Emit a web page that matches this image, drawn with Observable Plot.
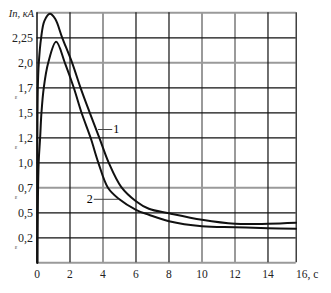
<!DOCTYPE html>
<html><head><meta charset="utf-8">
<script src="https://cdn.jsdelivr.net/npm/d3@7"></script>
<script src="https://cdn.jsdelivr.net/npm/@observablehq/plot@0.6"></script>
<style>body{margin:0;background:#fff} svg text{font-family:"Liberation Serif","Times New Roman",serif !important}</style>
</head><body><div id="chart"></div>
<script>
// Time, s
const t1 = [0.02,0.05,0.11,0.25,0.45,0.78,1.1,1.53,2.13,2.64,3.2,3.78,4.35,5.1,6,6.78,8,10,12,14,15.7];
const i1 = [0,1.75,2.0,2.25,2.42,2.49,2.44,2.25,2.0,1.75,1.5,1.25,1.0,0.76,0.616,0.54,0.495,0.43,0.39,0.39,0.4];
const t2 = [0.02,0.1,0.19,0.27,0.41,0.68,1.16,1.69,2.23,2.7,3.25,3.72,4.3,4.95,6,6.78,8,10,12,14,15.7];
const i2 = [0,1.0,1.25,1.5,1.75,2.0,2.21,2.0,1.75,1.5,1.25,1.0,0.75,0.64,0.53,0.48,0.416,0.366,0.356,0.346,0.34];

const xTicks = [0,2,4,6,8,10,12,14];
const xTickLabels = ["0","2","4","6","8","10","12","14"];
const xLastTick = 16, xLastLabel = "16, с";
const yTicks = [0.25,0.5,0.75,1.0,1.25,1.5,1.75,2.0,2.25];
const yTickLabels = ["0,2","0,5","0,7","1,0","1,2","1,5","1,7","2,0","2,25"];
const yTitle = "Iп, кА";
const grayX = [4,10,12];
const grayY = [0,0.75,2.0,2.5];
const curveNames = ["1","2"];
const leaderX1 = [3.7,3.44], leaderX2 = [4.56,4.9], leaderY = [1.333,0.635];

const s1 = t1.map((t,k)=>({t, v:i1[k]}));
const s2 = t2.map((t,k)=>({t, v:i2[k]}));
const vgrid = xTicks.filter(d=>d>0).concat([15.71]);
const hgrid = [0].concat(yTicks).concat([2.5]);
const font = "Liberation Serif";
const oddTicks = yTicks.filter((d,k)=>yTickLabels[k].length===3 && Math.round(d*100)%50!==0);

const chart = Plot.plot({
  width: 331, height: 293,
  marginLeft: 36.5, marginRight: 35.3, marginTop: 12.3, marginBottom: 30.7,
  x: {domain: [0, 15.71], axis: null},
  y: {domain: [0, 2.5], axis: null},
  style: {background: "#fff"},
  marks: [
    Plot.ruleX(vgrid.filter(d=>grayX.includes(d)), {stroke: "#9a9a9a", strokeWidth: 2}),
    Plot.ruleY(hgrid.filter(d=>grayY.includes(d)), {stroke: "#9a9a9a", strokeWidth: 2}),
    Plot.ruleX(vgrid.filter(d=>!grayX.includes(d)), {stroke: "#111", strokeWidth: 1.2}),
    Plot.ruleY(hgrid.filter(d=>!grayY.includes(d)), {stroke: "#111", strokeWidth: 1.2}),
    Plot.ruleX([0], {stroke: "#111", strokeWidth: 1.5}),
    Plot.line(s1, {x: "t", y: "v", curve: "catmull-rom", stroke: "#111", strokeWidth: 2}),
    Plot.line(s2, {x: "t", y: "v", curve: "catmull-rom", stroke: "#111", strokeWidth: 2}),
    Plot.link([0,1], {x1: k=>leaderX1[k], x2: k=>leaderX2[k], y1: k=>leaderY[k], y2: k=>leaderY[k], stroke: "#444", strokeWidth: 1}),
    Plot.text([0], {x: leaderX2[0], y: leaderY[0], text: [curveNames[0]], textAnchor: "start", dx: 1, fontSize: 12, fontFamily: font}),
    Plot.text([1], {x: leaderX1[1], y: leaderY[1], text: [curveNames[1]], textAnchor: "end", dx: -1, fontSize: 12, fontFamily: font}),
    Plot.text(xTicks, {x: d=>d, y: 0, text: (d,k)=>xTickLabels[k], dy: 12, fontSize: 11.5, fill: "#222", fontFamily: font}),
    Plot.text([xLastTick], {x: d=>d, y: 0, text: [xLastLabel], dy: 12, dx: -5, textAnchor: "start", fontSize: 11.5, fill: "#222", fontFamily: font}),
    Plot.text(yTicks, {x: 0, y: d=>d, text: (d,k)=>yTickLabels[k], dx: -4, textAnchor: "end", fontSize: 12, fill: "#222", fontFamily: font}),
    Plot.text(oddTicks, {x: 0, y: d=>d, text: d=>"ɛ", dx: -21, dy: 9, textAnchor: "middle", fontSize: 6, fill: "#444", fontFamily: font}),
    Plot.text([2.5], {x: 0, y: d=>d, text: [yTitle], dx: -3, dy: 1, textAnchor: "end", fontSize: 10.5, fontStyle: "italic", fill: "#222", fontFamily: font})
  ]
});
document.getElementById("chart").appendChild(chart);
</script></body></html>
